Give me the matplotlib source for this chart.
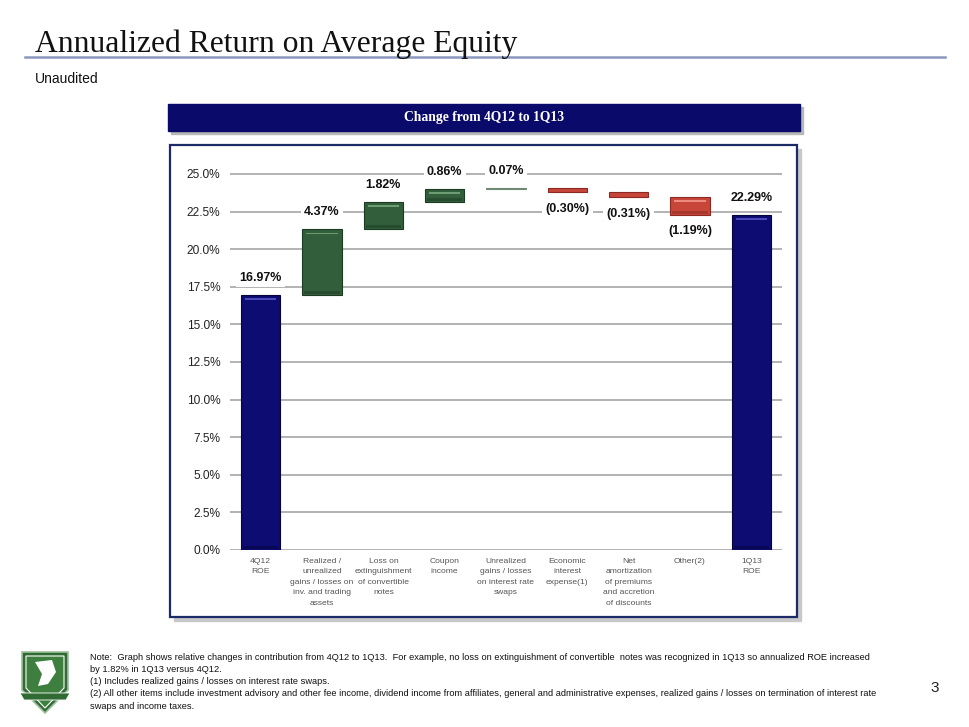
import numpy as np
import matplotlib
matplotlib.use("Agg")
import matplotlib.pyplot as plt
from matplotlib.patches import Rectangle, Polygon

plt.rcParams['font.family'] = ['Liberation Sans', 'DejaVu Sans']

# data
categories = ["4Q12\nROE",
              "Realized /\nunrealized\ngains / losses on\ninv. and trading\nassets",
              "Loss on\nextinguishment\nof convertible\nnotes",
              "Coupon\nincome",
              "Unrealized\ngains / losses\non interest rate\nswaps",
              "Economic\ninterest\nexpense(1)",
              "Net\namortization\nof premiums\nand accretion\nof discounts",
              "Other(2)",
              "1Q13\nROE"]
start_roe = 16.97
changes = [4.37, 1.82, 0.86, 0.07, -0.30, -0.31, -1.19]
end_roe = 22.29
value_labels = ["16.97%", "4.37%", "1.82%", "0.86%", "0.07%",
                "(0.30%)", "(0.31%)", "(1.19%)", "22.29%"]
y_ticks = [0, 2.5, 5, 7.5, 10, 12.5, 15, 17.5, 20, 22.5, 25]

NAVY = '#0c0c72'
GREEN = '#335e3b'
RED = '#c8453a'

W, H = 970, 727
fig = plt.figure(figsize=(W / 100, H / 100), dpi=100)

# full-figure canvas in pixel coords for slide decorations
bg = fig.add_axes([0, 0, 1, 1])
bg.set_xlim(0, W)
bg.set_ylim(H, 0)
bg.axis('off')

# title + rule
bg.text(35, 52, "Annualized Return on Average Equity", family='Liberation Serif',
        fontsize=22.8, color='#111111', va='baseline')
bg.plot([25, 945], [57, 57], color='#8a98bf', lw=1.8)
bg.text(35, 79, "Unaudited", fontsize=10, color='#111111', va='center')

# banner
bg.add_patch(Rectangle((171, 107), 632, 27, color='#b8b8b8', zorder=1))
bg.add_patch(Rectangle((168, 104), 632, 27, color='#0a0a6b', zorder=2))
bg.text(484, 118, "Change from 4Q12 to 1Q13", family='Liberation Serif', fontweight='bold',
        fontsize=9.8, color='white', ha='center', va='center', zorder=3)

# chart frame
bg.add_patch(Rectangle((174, 149), 627, 472, color='#c8c8c8', zorder=1))
bg.add_patch(Rectangle((170, 145), 627, 472, facecolor='white', edgecolor='#1c2a66',
                       lw=1.6, zorder=2))

# logo (simple shield)
shield = [(22, 652), (68, 652), (68, 690), (45, 713), (22, 690)]
bg.add_patch(Polygon(shield, closed=True, facecolor='#2f6b33', edgecolor='#9fbf9f', lw=1.2, zorder=2))
bg.add_patch(Polygon([(26, 656), (64, 656), (64, 688), (45, 708), (26, 688)], closed=True,
                     facecolor='#3e7f3f', edgecolor='white', lw=0.8, zorder=3))
bg.add_patch(Polygon([(35, 662), (52, 660), (56, 672), (48, 684), (38, 686), (42, 674)], closed=True,
                     facecolor='white', zorder=4))
bg.add_patch(Polygon([(20, 693), (70, 693), (66, 700), (24, 700)], closed=True,
                     facecolor='#2f6b33', edgecolor='white', lw=0.6, zorder=5))

# footnotes
notes = ("Note:  Graph shows relative changes in contribution from 4Q12 to 1Q13.  For example, no loss on "
         "extinguishment of convertible  notes was recognized in 1Q13 so annualized ROE increased\n"
         "by 1.82% in 1Q13 versus 4Q12.\n"
         "(1) Includes realized gains / losses on interest rate swaps.\n"
         "(2) All other items include investment advisory and other fee income, dividend income from affiliates, "
         "general and administrative expenses, realized gains / losses on termination of interest rate\n"
         "swaps and income taxes.")
bg.text(90, 653, notes, fontsize=6.7, color='#111111', va='top', linespacing=1.45)
bg.text(935, 688, "3", fontsize=11, color='#222222', ha='center', va='center')

# waterfall axes: y=0 at px 550, 25% at px 174
px_per = (550 - 174) / 25.0
top_val = 26.5
ax = fig.add_axes([230 / W, 1 - 550 / H, 552 / W, top_val * px_per / H])
ax.set_xlim(-0.5, 8.5)
ax.set_ylim(0, top_val)
ax.patch.set_alpha(0)
for s in ax.spines.values():
    s.set_visible(False)

ax.set_yticks(y_ticks)
ax.set_yticklabels([f"{t:.1f}%" for t in y_ticks], fontsize=8.6, color='#222222')
ax.tick_params(axis='y', length=0, pad=7)
ax.yaxis.grid(True, color='#a6a6a6', lw=1.2)
ax.set_axisbelow(True)

x = np.arange(len(categories))
ax.set_xticks(x)
ax.set_xticklabels(categories, fontsize=6.1, color='#555555', linespacing=1.7)
ax.tick_params(axis='x', length=0, pad=5.5)

levels = start_roe + np.cumsum(changes)
prev = np.concatenate(([start_roe], levels[:-1]))
bottoms = [0] + list(np.minimum(prev, levels)) + [0]
heights = [start_roe] + list(np.abs(changes)) + [end_roe]
colors = [NAVY] + [GREEN if c >= 0 else RED for c in changes] + [NAVY]
edges = {NAVY: '#05053a', GREEN: '#1d3a22', RED: '#8a2a22'}
lights = {NAVY: '#4a4ab8', GREEN: '#6e9c72', RED: '#ec8a80'}

bw = 0.64
for xi, b, h, c in zip(x, bottoms, heights, colors):
    ec = edges[c] if h > 0.1 else '#6f8a72'
    fc = c if h > 0.1 else '#6f8a72'
    ax.bar(xi, h, bottom=b, width=bw, color=fc, edgecolor=ec, lw=0.8, zorder=3)
    if h > 0.5:
        ax.bar(xi, 0.12, bottom=b + h - 0.35, width=bw * 0.8, color=lights[c], lw=0, zorder=4)
        ax.bar(xi, 0.2, bottom=b + 0.05, width=bw * 0.9, color=edges[c], alpha=0.5, lw=0, zorder=4)

signs = [1] + [1 if c >= 0 else -1 for c in changes] + [1]
for xi, b, h, sgn, lab in zip(x, bottoms, heights, signs, value_labels):
    yref = b + h if sgn > 0 else b
    ax.annotate(lab, (xi, yref), xytext=(0, 12 * sgn), textcoords='offset points',
                ha='center', va='center', fontsize=9, fontweight='bold', color='#111111',
                bbox=dict(boxstyle='square,pad=0.25', fc='white', ec='none'), zorder=5,
                annotation_clip=False)

fig.savefig("out.png", dpi=100)
